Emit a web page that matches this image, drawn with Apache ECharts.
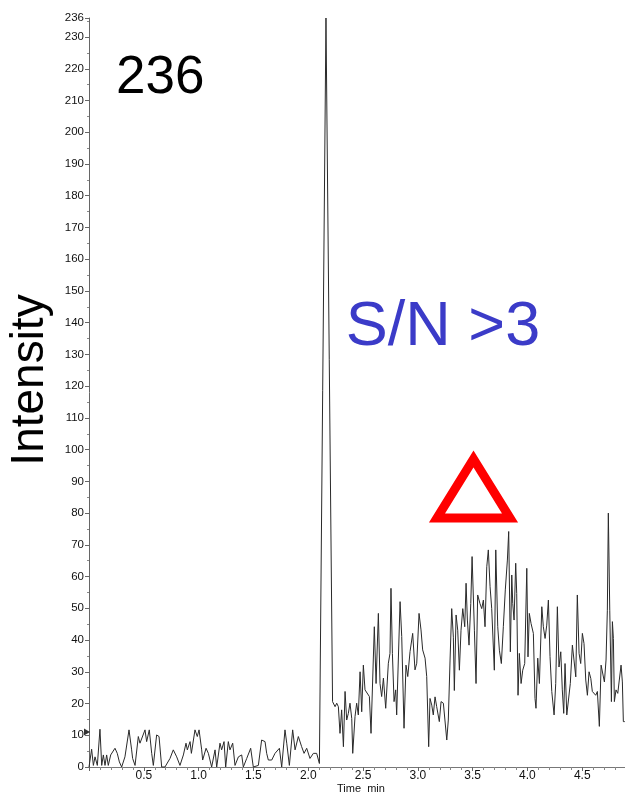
<!DOCTYPE html>
<html>
<head>
<meta charset="utf-8">
<script src="https://cdn.jsdelivr.net/npm/echarts@6/dist/echarts.min.js"></script>
<style>
  html, body { margin: 0; padding: 0; background: #ffffff; }
  #chart { width: 625px; height: 795px; }
</style>
</head>
<body>
<div id="chart"></div>
<script>
// Retention time (min) of each trace vertex
const timeMin = [
  0.000, 0.024, 0.040, 0.055, 0.076, 0.100, 0.116, 0.131, 0.146, 0.161,
  0.176, 0.198, 0.216, 0.237, 0.258, 0.277, 0.298, 0.328, 0.365, 0.389,
  0.398, 0.420, 0.450, 0.465, 0.511, 0.526, 0.550, 0.572, 0.587, 0.617,
  0.639, 0.663, 0.693, 0.739, 0.769, 0.800, 0.830, 0.861, 0.885, 0.897,
  0.922, 0.934, 0.967, 0.988, 1.004, 1.028, 1.037, 1.068, 1.089, 1.119,
  1.150, 1.165, 1.195, 1.210, 1.232, 1.247, 1.271, 1.286, 1.311, 1.332,
  1.363, 1.393, 1.408, 1.439, 1.475, 1.499, 1.545, 1.575, 1.606, 1.621,
  1.636, 1.667, 1.697, 1.737, 1.758, 1.773, 1.788, 1.804, 1.828, 1.858,
  1.880, 1.910, 1.940, 1.962, 1.986, 2.016, 2.047, 2.077, 2.102,
  2.162, 2.222,
  2.245, 2.260, 2.275, 2.290, 2.305, 2.321, 2.336, 2.351, 2.366, 2.381,
  2.397, 2.406, 2.427, 2.442, 2.457, 2.473, 2.488, 2.503, 2.518, 2.533,
  2.558, 2.573, 2.603, 2.619, 2.640, 2.655, 2.670, 2.686, 2.707, 2.731,
  2.746, 2.755, 2.768, 2.783, 2.798, 2.807, 2.838, 2.853, 2.874, 2.892,
  2.908, 2.929, 2.953, 2.974, 2.990, 3.011, 3.029, 3.044, 3.066, 3.081,
  3.099,
  3.111, 3.127, 3.141, 3.157, 3.172, 3.196, 3.212, 3.233, 3.248, 3.264,
  3.278, 3.294, 3.309, 3.324, 3.333, 3.349, 3.364, 3.379, 3.394, 3.410,
  3.428, 3.440, 3.452, 3.467, 3.483, 3.495, 3.516, 3.531, 3.546, 3.567,
  3.583, 3.598, 3.613, 3.629, 3.643, 3.659, 3.674, 3.683, 3.698, 3.711,
  3.729, 3.744, 3.762, 3.780, 3.798, 3.817, 3.829, 3.844, 3.857, 3.866,
  3.878, 3.893, 3.902, 3.914, 3.926, 3.942, 3.957, 3.975, 3.994, 4.005,
  4.017, 4.033, 4.054, 4.069, 4.078,
  4.094, 4.109, 4.131, 4.145, 4.161, 4.176, 4.191, 4.206, 4.222, 4.243,
  4.258, 4.273, 4.288, 4.304, 4.318, 4.331, 4.343, 4.359, 4.373, 4.391,
  4.410, 4.428, 4.441, 4.455, 4.471, 4.486, 4.501, 4.516, 4.532, 4.547,
  4.562, 4.578, 4.592, 4.608, 4.623, 4.638, 4.656, 4.672, 4.687, 4.702,
  4.717, 4.729, 4.738, 4.751, 4.766, 4.775, 4.784, 4.793, 4.808, 4.824,
  4.838, 4.854, 4.866, 4.875, 4.888
];

// Ion intensity at each vertex
const intensity = [
  0, 5.6, 0.5, 3.2, 0.5, 11.9, 0.5, 3.8, 0.5, 3.8,
  0.5, 3.8, 4.3, 5.9, 4.3, 1.6, 0, 3.2, 11.7, 5.4,
  2.7, 0.5, 9.6, 7.5, 11.7, 8.0, 11.7, 4.3, 0.5, 10.1,
  9.6, 0, 0, 2.7, 5.4, 3.2, 0.5, 3.8, 7.5, 5.4,
  8.0, 4.3, 11.7, 9.6, 11.7, 5.4, 2.2, 5.9, 4.3, 0,
  5.4, 0, 7.5, 5.4, 8.0, 0, 8.0, 5.4, 7.5, 0.5,
  3.2, 3.8, 0, 2.7, 5.9, 0, 0.5, 8.5, 8.0, 4.3,
  2.2, 2.2, 4.3, 5.9, 0, 0.5, 11.7, 7.5, 0.5, 11.7,
  5.4, 9.6, 6.4, 4.3, 5.9, 2.7, 4.3, 4.3, 1.1,
  236, 20.6,
  19.0, 20.1, 19.0, 10.6, 18.0, 6.4, 23.8, 14.8, 16.9, 20.1,
  15.3, 4.3, 15.9, 20.1, 16.4, 30.0, 17.4, 32.1, 24.3, 24.3,
  22.2, 10.6, 44.2, 26.3, 48.4, 26.3, 22.2, 28.0, 18.5, 32.7,
  35.8, 56.3, 35.8, 20.6, 24.3, 16.4, 52.1, 41.1, 12.2, 32.1,
  28.5, 36.4, 42.1, 30.6, 32.7, 48.4, 43.2, 36.9, 34.3, 28.5,
  6.4,
  21.6, 19.5, 16.4, 22.1, 19.0, 14.3, 20.6, 20.1, 20.1, 8.5,
  14.8, 33.7, 49.9, 40.9, 24.1, 47.9, 43.1, 30.5, 43.1, 49.9,
  44.2, 57.9, 46.3, 38.4, 51.5, 66.3, 43.1, 26.3, 54.2, 51.5,
  49.9, 52.6, 44.2, 63.1, 68.4, 56.8, 49.9, 50.5, 30.5, 68.4,
  44.2, 36.8, 32.6, 44.2, 55.8, 65.2, 74.2, 36.3, 60.5, 51.5,
  46.3, 64.2, 54.7, 22.6, 35.8, 26.3, 30.5, 32.6, 62.6, 34.7,
  48.4, 45.2, 42.1, 21.6, 18.5,
  34.3, 26.3, 50.5, 44.2, 40.5, 44.7, 52.6, 34.8, 23.8, 16.4,
  26.3, 50.5, 31.5, 36.3, 24.3, 16.9, 32.6, 16.4, 16.4, 26.3,
  38.4, 38.4, 28.4, 54.2, 35.8, 32.6, 42.1, 38.9, 27.4, 22.6,
  30.0, 27.9, 23.8, 24.3, 22.6, 23.8, 12.8, 32.1, 32.1, 26.8,
  33.7, 49.4, 80.0, 49.4, 20.6, 45.8, 40.5, 20.6, 24.3, 23.2,
  27.4, 32.1, 26.8, 14.3, 14.3
];

// Axis ranges and the threshold marker on the intensity axis
const timeRange = [0, 4.89];
const intensityRange = [0, 236];
const thresholdLevel = 11;

// Annotation texts
const peakLabel = '236';
const snLabel = 'S/N >3';
const yTitle = 'Intensity';
const xTitle = 'Time  min';

const FONT = "'Liberation Sans', Arial, Helvetica, sans-serif";
const trace = timeMin.map((t, i) => [t, intensity[i]]);

const chart = echarts.init(document.getElementById('chart'), null, { renderer: 'canvas' });

chart.setOption({
  animation: false,
  backgroundColor: '#ffffff',
  grid: { left: 89, right: 0, top: 18, bottom: 28, containLabel: false },
  xAxis: {
    type: 'value',
    min: timeRange[0],
    max: timeRange[1],
    interval: 0.5,
    axisLine: { show: true, onZero: false, lineStyle: { color: '#777777', width: 1 } },
    axisTick: { show: true, inside: false, length: 4, lineStyle: { color: '#666666' } },
    minorTick: { show: true, splitNumber: 5, length: 3, lineStyle: { color: '#888888' } },
    splitLine: { show: false },
    axisLabel: {
      showMinLabel: false,
      showMaxLabel: false,
      margin: 3,
      color: '#111111',
      fontFamily: FONT,
      fontSize: 12,
      formatter: v => v.toFixed(1)
    }
  },
  yAxis: {
    type: 'value',
    min: intensityRange[0],
    max: intensityRange[1],
    interval: 10,
    axisLine: { show: true, lineStyle: { color: '#666666', width: 1 } },
    axisTick: { show: true, inside: false, length: 4, lineStyle: { color: '#666666' } },
    minorTick: { show: true, splitNumber: 2, length: 2, lineStyle: { color: '#888888' } },
    splitLine: { show: false },
    axisLabel: {
      margin: 5,
      color: '#111111',
      fontFamily: FONT,
      fontSize: 11.5,
      hideOverlap: false
    }
  },
  series: [
    {
      type: 'line',
      data: trace,
      showSymbol: false,
      symbol: 'none',
      lineStyle: { color: '#2a2a2a', width: 1 },
      clip: false,
      z: 3
    },
    {
      type: 'scatter',
      data: [[timeRange[0], thresholdLevel]],
      symbol: 'triangle',
      symbolSize: [7, 6],
      symbolRotate: -90,
      symbolOffset: [-2, 0],
      itemStyle: { color: '#000000' },
      clip: false,
      silent: true,
      z: 4
    }
  ],
  graphic: [
    {
      type: 'text',
      x: 30, y: 380,
      rotation: Math.PI / 2,
      style: {
        text: yTitle,
        font: `46px ${FONT}`,
        fill: '#000000',
        align: 'center',
        verticalAlign: 'middle'
      }
    },
    {
      type: 'text',
      x: 116, y: 78,
      style: {
        text: peakLabel,
        font: `53px ${FONT}`,
        fill: '#000000',
        align: 'left',
        verticalAlign: 'middle'
      }
    },
    {
      type: 'text',
      x: 443, y: 328,
      style: {
        text: snLabel,
        font: `63px ${FONT}`,
        fill: '#3b3bc8',
        align: 'center',
        verticalAlign: 'middle'
      }
    },
    {
      type: 'polygon',
      shape: { points: [[437, 518], [510, 518], [473.5, 459]] },
      style: { fill: 'none', stroke: '#ff0000', lineWidth: 9, lineJoin: 'miter' }
    },
    {
      type: 'text',
      x: 361, y: 789,
      style: {
        text: xTitle,
        font: `11px ${FONT}`,
        fill: '#111111',
        align: 'center',
        verticalAlign: 'middle'
      }
    }
  ]
});
</script>
</body>
</html>
